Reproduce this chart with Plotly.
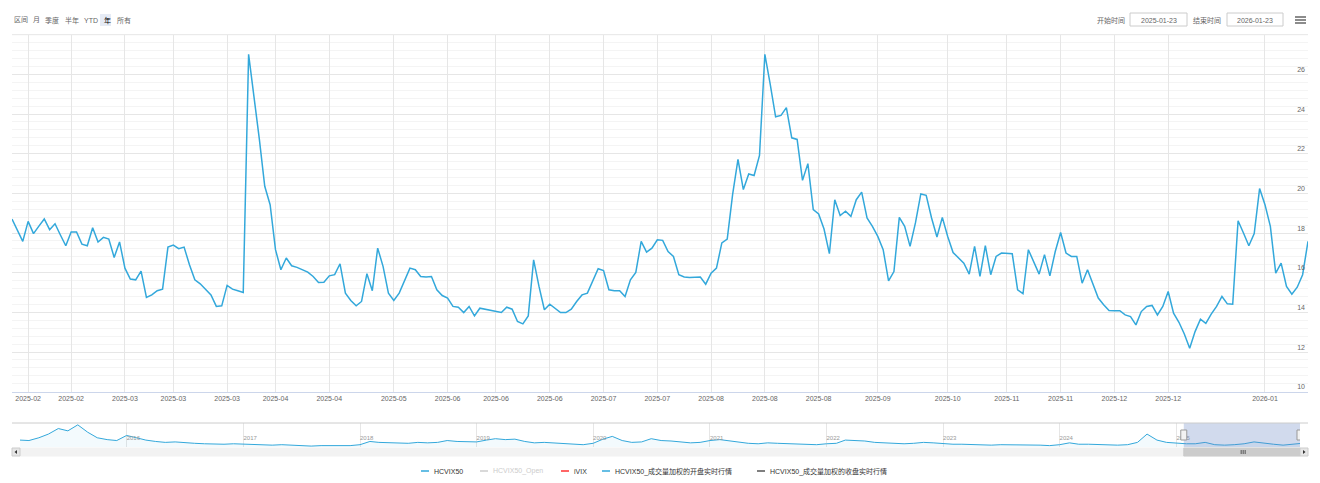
import pandas as pd
import plotly.graph_objects as go

# page has an 8px body margin: the figure is drawn from (8, 8) in the 1320x483 window
OFF = 8
W, H = 1320 - OFF, 483 - OFF
FONT = "Liberation Sans, Arial, Noto Sans CJK SC, sans-serif"

# ---------------- data ----------------
holidays = ["2025-01-28", "2025-01-29", "2025-01-30", "2025-01-31", "2025-02-03", "2025-02-04",
            "2025-04-04", "2025-05-01", "2025-05-02", "2025-05-05", "2025-06-02",
            "2025-10-01", "2025-10-02", "2025-10-03", "2025-10-06", "2025-10-07", "2025-10-08",
            "2026-01-01", "2026-01-02"]
trade_days = [d.strftime("%Y-%m-%d") for d in pd.bdate_range("2025-01-24", "2026-01-23")
              if d.strftime("%Y-%m-%d") not in holidays]

hcvix50 = [
    18.71, 18.10, 17.58, 18.59, 17.97, 18.35, 18.71, 18.17, 18.47, 17.90,
    17.36, 18.05, 18.05, 17.44, 17.36, 18.27, 17.55, 17.78, 17.70, 16.77,
    17.55, 16.23, 15.68, 15.64, 16.08, 14.75, 14.88, 15.09, 15.17, 17.29,
    17.39, 17.21, 17.29, 16.40, 15.64, 15.44, 15.17, 14.88, 14.30, 14.33,
    15.36, 15.17, 15.09, 15.00, 27.01, 24.99, 22.72, 20.36, 19.43, 17.16,
    16.15, 16.74, 16.35, 16.27, 16.15, 16.03, 15.81, 15.51, 15.52, 15.84,
    15.90, 16.45, 14.97, 14.60, 14.33, 14.55, 15.95, 15.09, 17.24, 16.32,
    14.97, 14.60, 14.97, 15.56, 16.23, 16.15, 15.81, 15.78, 15.81, 15.14,
    14.85, 14.72, 14.30, 14.26, 13.99, 14.30, 13.82, 14.21, 14.16, 14.08,
    14.04, 13.99, 14.26, 14.16, 13.54, 13.42, 13.82, 16.65, 15.31, 14.13,
    14.41, 14.21, 13.99, 13.99, 14.16, 14.55, 14.88, 14.97, 15.56, 16.20,
    16.11, 15.14, 15.09, 15.09, 14.80, 15.64, 16.01, 17.58, 17.04, 17.24,
    17.66, 17.63, 17.07, 16.82, 15.90, 15.78, 15.76, 15.76, 15.78, 15.42,
    15.98, 16.23, 17.50, 17.70, 19.94, 21.71, 20.19, 20.98, 20.90, 21.91,
    27.01, 25.50, 23.86, 23.93, 24.32, 22.80, 22.72, 20.66, 21.50, 19.18,
    18.96, 18.20, 16.96, 19.68, 18.88, 19.10, 18.84, 19.68, 20.06, 18.76,
    18.34, 17.83, 17.16, 15.59, 16.06, 18.79, 18.34, 17.33, 18.51, 19.97,
    19.90, 18.76, 17.80, 18.79, 17.83, 17.02, 16.77, 16.48, 15.93, 17.33,
    15.81, 17.36, 15.90, 16.82, 16.99, 16.99, 16.96, 15.14, 14.94, 17.16,
    16.52, 15.93, 16.91, 15.84, 17.07, 18.03, 16.99, 16.82, 16.82, 15.47,
    16.15, 15.39, 14.72, 14.38, 14.09, 14.08, 14.08, 13.87, 13.79, 13.37,
    14.04, 14.30, 14.35, 13.87, 14.30, 15.05, 13.96, 13.50, 12.91, 12.19,
    13.03, 13.66, 13.45, 13.91, 14.30, 14.80, 14.43, 14.41, 18.62, 18.00,
    17.36, 17.97, 20.24, 19.43, 18.34, 15.98, 16.48, 15.31, 14.92, 15.27,
    15.90, 17.58,
]
n = min(len(trade_days), len(hcvix50))
trade_days = trade_days[:n]
hcvix50 = hcvix50[:n]

tick_dates = ["2025-02-06", "2025-02-18", "2025-03-04", "2025-03-17", "2025-03-31", "2025-04-14",
              "2025-04-28", "2025-05-19", "2025-06-03", "2025-06-16", "2025-06-30", "2025-07-14",
              "2025-07-28", "2025-08-11", "2025-08-25", "2025-09-08", "2025-09-23", "2025-10-20",
              "2025-11-04", "2025-11-18", "2025-12-02", "2025-12-16", "2026-01-13"]
tick_labels = ["2025-02", "2025-02", "2025-03", "2025-03", "2025-03", "2025-04",
               "2025-04", "2025-05", "2025-06", "2025-06", "2025-06", "2025-07",
               "2025-07", "2025-08", "2025-08", "2025-08", "2025-09", "2025-10",
               "2025-11", "2025-11", "2025-12", "2025-12", "2026-01"]
y_ticks = [10, 12, 14, 16, 18, 20, 22, 24, 26]

# navigator (full history, monthly)
nav_dates = [d.strftime("%Y-%m-%d") for d in pd.date_range("2015-02-01", "2026-01-01", freq="MS")]
nav_values = [
    25, 24, 30, 38, 50, 45, 58, 42, 30, 26, 24,
    35, 30, 25, 22, 20, 21, 19, 18, 17, 16, 16, 17,
    16, 15, 14, 14, 15, 14, 13, 12, 13, 13, 14, 13,
    15, 22, 20, 19, 18, 18, 20, 19, 20, 24, 22, 22,
    21, 25, 28, 26, 27, 22, 19, 20, 19, 17, 16, 15,
    18, 27, 33, 24, 20, 21, 28, 24, 23, 21, 19, 20,
    24, 26, 23, 20, 18, 17, 19, 18, 17, 16, 16, 15,
    17, 18, 25, 24, 23, 20, 19, 18, 17, 18, 20, 19,
    17, 16, 16, 15, 15, 14, 15, 15, 14, 14, 14, 13,
    15, 19, 16, 16, 15, 14, 14, 15, 20, 38, 25, 20,
    18, 17, 17, 20, 15, 14, 15, 17, 21, 18, 16, 14,
    17,
]
nav_years = ["2016", "2017", "2018", "2019", "2020", "2021", "2022", "2023", "2024", "2025"]

legend_names = ["HCVIX50", "HCVIX50_Open", "iVIX", "HCVIX50_成交量加权的开盘实时行情", "HCVIX50_成交量加权的收盘实时行情"]
legend_colors = ["#33a8db", "#cccccc", "#ff3333", "#33a8db", "#555555"]
legend_visible = [True, False, True, True, True]

range_buttons = ["月", "季度", "半年", "YTD", "年", "所有"]
start_date, end_date = "2025-01-23", "2026-01-23"

LINE = "#33a8db"


def px(x):
    return (x - OFF) / W


def py(y):
    return 1 - (y - OFF) / H


fig = go.Figure()
fig.add_trace(go.Scatter(x=trade_days, y=hcvix50, mode="lines", name="HCVIX50",
                         line=dict(color=LINE, width=1.5), xaxis="x", yaxis="y"))
fig.add_trace(go.Scatter(x=nav_dates + [trade_days[-1]], y=nav_values + [hcvix50[-1]],
                         mode="lines", name="nav",
                         line=dict(color=LINE, width=1), fill="tozeroy",
                         fillcolor="rgba(51,168,219,0.06)", xaxis="x2", yaxis="y2",
                         hoverinfo="skip"))

X0, X1 = 12, 1308            # main plot
NX0, NX1 = 20, 1300          # navigator (inset by scrollbar buttons)
Y_TOP, Y_BOT = 34.7, 391.7
NAV_TOP, NAV_BOT = 423, 447

fig.update_layout(
    width=W, height=H, margin=dict(l=0, r=0, t=0, b=0),
    paper_bgcolor="white", plot_bgcolor="white", showlegend=False,
    font=dict(family=FONT, size=7, color="#666666"),
    xaxis=dict(type="category", domain=[px(X0), px(X1)], anchor="y",
               range=[0, n - 1], tickmode="array", tickvals=tick_dates, ticktext=tick_labels,
               showgrid=True, gridcolor="#e6e6e6", gridwidth=1, ticks="",
               showline=True, linecolor="#ccd6eb", linewidth=1, zeroline=False,
               tickfont=dict(size=7, color="#666666"), fixedrange=True),
    yaxis=dict(domain=[py(Y_BOT), py(Y_TOP)], anchor="x", range=[10, 28], side="right",
               tickmode="array", tickvals=y_ticks, ticklabelposition="inside top",
               showgrid=True, gridcolor="#e6e6e6", gridwidth=1, zeroline=False,
               minor=dict(dtick=0.4, tick0=10, showgrid=True, gridcolor="#f4f4f4"),
               tickfont=dict(size=7, color="#666666"), showline=False, fixedrange=True),
    xaxis2=dict(type="date", domain=[px(NX0), px(NX1)], anchor="y2",
                range=[nav_dates[0], trade_days[-1]], tickmode="array",
                tickvals=[y + "-01-01" for y in nav_years], ticktext=nav_years,
                ticklabelposition="inside right", showgrid=True, gridcolor="#e6e6e6",
                ticks="", showline=False, zeroline=False,
                tickfont=dict(size=6, color="#999999"), fixedrange=True),
    yaxis2=dict(domain=[py(NAV_BOT), py(NAV_TOP)], anchor="x2", range=[10, 62],
                visible=False, fixedrange=True),
)

shapes = []
ann = []

# top border of plot
shapes.append(dict(type="line", xref="paper", yref="paper", x0=px(X0), x1=px(X1),
                   y0=py(Y_TOP), y1=py(Y_TOP), line=dict(color="#e6e6e6", width=1)))

# navigator mask + outline + handles
shapes.append(dict(type="rect", xref="x2", yref="paper", x0=trade_days[0], x1=trade_days[-1],
                   y0=py(NAV_BOT), y1=py(NAV_TOP), fillcolor="rgba(102,133,194,0.3)",
                   line=dict(width=0), layer="above"))
shapes.append(dict(type="line", xref="paper", yref="paper", x0=px(X0), x1=px(X1),
                   y0=py(NAV_TOP), y1=py(NAV_TOP), line=dict(color="#cccccc", width=1)))
for d in (trade_days[0], trade_days[-1]):
    shapes.append(dict(type="rect", xref="x2", yref="paper", xsizemode="pixel", xanchor=d,
                       x0=-3, x1=3, y0=py(NAV_TOP + 7), y1=py(NAV_TOP + 17),
                       fillcolor="#f2f2f2", line=dict(color="#999999", width=1), layer="above"))

# scrollbar
SB_T, SB_B = 448, 456
shapes.append(dict(type="rect", xref="paper", yref="paper", x0=px(NX0), x1=px(NX1),
                   y0=py(SB_B), y1=py(SB_T), fillcolor="#f2f2f2", line=dict(color="#f2f2f2", width=1)))
shapes.append(dict(type="rect", xref="x2", yref="paper", x0=trade_days[0], x1=trade_days[-1],
                   y0=py(SB_B), y1=py(SB_T), fillcolor="#cccccc", line=dict(color="#cccccc", width=1)))
# grip on thumb
for dx in (-2, 0, 2):
    shapes.append(dict(type="line", xref="x2", yref="paper", xsizemode="pixel",
                       xanchor=trade_days[len(trade_days) // 2], x0=dx, x1=dx,
                       y0=py(450), y1=py(454), line=dict(color="#333333", width=0.8)))
for (a, b) in ((X0, NX0), (NX1, X1)):
    shapes.append(dict(type="rect", xref="paper", yref="paper", x0=px(a), x1=px(b),
                       y0=py(SB_B), y1=py(SB_T), fillcolor="#e6e6e6", line=dict(color="#cccccc", width=1)))
shapes.append(dict(type="path", xref="paper", yref="paper",
                   path=f"M {px(X0+5)} {py(450)} L {px(X0+5)} {py(454)} L {px(X0+2.5)} {py(452)} Z",
                   fillcolor="#333333", line=dict(width=0)))
shapes.append(dict(type="path", xref="paper", yref="paper",
                   path=f"M {px(X1-5)} {py(450)} L {px(X1-5)} {py(454)} L {px(X1-2.5)} {py(452)} Z",
                   fillcolor="#333333", line=dict(width=0)))

# hamburger menu
for yy in (17, 20, 23):
    shapes.append(dict(type="line", xref="paper", yref="paper", x0=px(1295), x1=px(1306),
                       y0=py(yy), y1=py(yy), line=dict(color="#666666", width=1.5)))

# range selector
ann.append(dict(x=px(12), y=py(20), xref="paper", yref="paper", text="区间", showarrow=False,
                xanchor="left", yanchor="middle", font=dict(size=7, color="#666666")))
btn_x = [31, 43, 63, 82, 102, 115]
for t, bx in zip(range_buttons, btn_x):
    if t == "年":
        shapes.append(dict(type="rect", xref="paper", yref="paper", x0=px(bx - 2), x1=px(bx + 9),
                           y0=py(26), y1=py(14), fillcolor="#e6ebf5", line=dict(width=0)))
    ann.append(dict(x=px(bx), y=py(20), xref="paper", yref="paper", text=t, showarrow=False,
                    xanchor="left", yanchor="middle",
                    font=dict(size=7, color="#000000" if t == "年" else "#666666")))

# date inputs
ann.append(dict(x=px(1127), y=py(20), xref="paper", yref="paper", text="开始时间", showarrow=False,
                xanchor="right", yanchor="middle", font=dict(size=7, color="#666666")))
ann.append(dict(x=px(1223), y=py(20), xref="paper", yref="paper", text="结束时间", showarrow=False,
                xanchor="right", yanchor="middle", font=dict(size=7, color="#666666")))
for (a, b, t) in ((1130, 1187, start_date), (1227, 1283, end_date)):
    shapes.append(dict(type="rect", xref="paper", yref="paper", x0=px(a), x1=px(b),
                       y0=py(26), y1=py(13), fillcolor="white", line=dict(color="#cccccc", width=1)))
    ann.append(dict(x=px((a + b) / 2), y=py(20), xref="paper", yref="paper", text=t, showarrow=False,
                    xanchor="center", yanchor="middle", font=dict(size=7, color="#666666")))

# legend
leg_sym_x = [421, 480, 561, 602, 757]
for name, col, vis, lx in zip(legend_names, legend_colors, legend_visible, leg_sym_x):
    shapes.append(dict(type="line", xref="paper", yref="paper", x0=px(lx), x1=px(lx + 8),
                       y0=py(471), y1=py(471), line=dict(color=col if vis else "#cccccc", width=1.5)))
    ann.append(dict(x=px(lx + 11), y=py(471), xref="paper", yref="paper", text=name, showarrow=False,
                    xanchor="left", yanchor="middle",
                    font=dict(size=7, color="#333333" if vis else "#cccccc")))

fig.update_layout(shapes=shapes, annotations=ann)
fig.write_html("out.html")
